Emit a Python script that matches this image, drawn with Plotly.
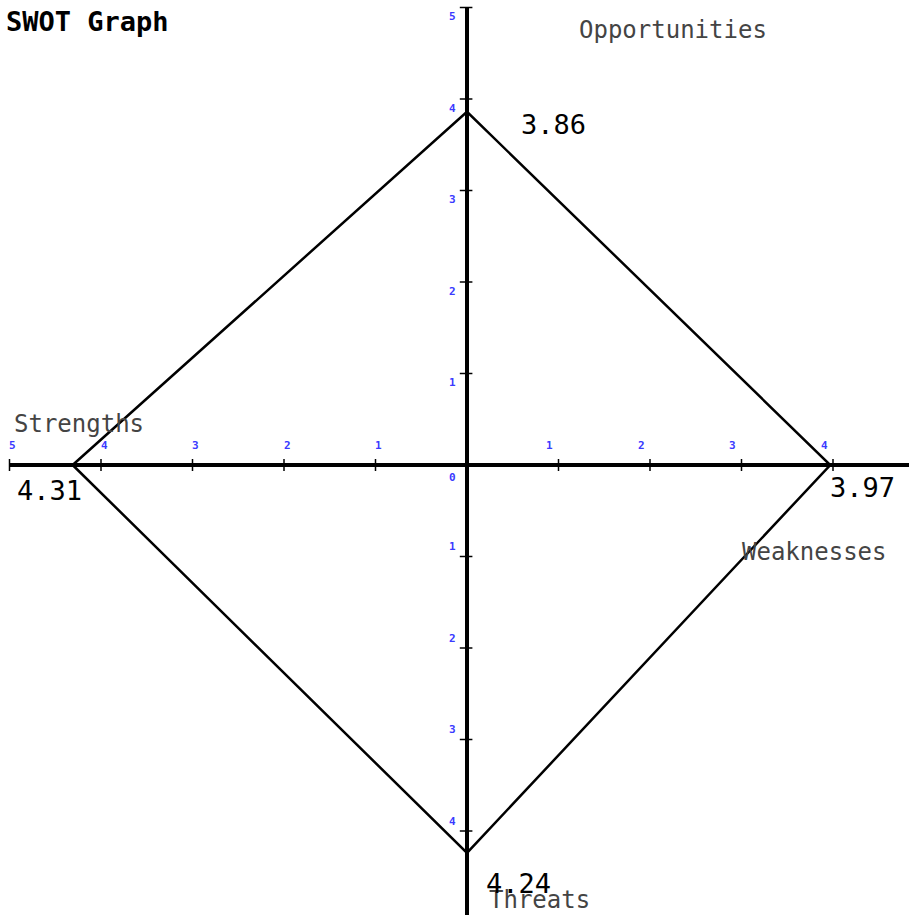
import plotly.graph_objects as go

# SWOT scores, one per axis direction
categories = ["Strengths", "Opportunities", "Weaknesses", "Threats"]
scores = [4.31, 3.86, 3.97, 4.24]
directions = [(-1, 0), (0, 1), (1, 0), (0, -1)]
tick_vals = [1, 2, 3, 4, 5]

PX = 91.5  # pixels per unit
X0, Y0 = 467, 465  # origin in pixels
W, H = 909, 915

MONO = "DejaVu Sans Mono"

fig = go.Figure()

# axes
fig.add_trace(go.Scatter(x=[-5, 5], y=[0, 0], mode="lines",
                         line=dict(color="black", width=4), hoverinfo="skip"))
fig.add_trace(go.Scatter(x=[0, 0], y=[-5, 5], mode="lines",
                         line=dict(color="black", width=4), hoverinfo="skip"))

# tick marks
t = 6 / PX
tx, ty = [], []
for v in tick_vals:
    for s in (-1, 1):
        tx += [s * v, s * v, None]
        ty += [-t, t, None]
        tx += [-t * 1.2, t * 0.9, None]
        ty += [s * v, s * v, None]
fig.add_trace(go.Scatter(x=tx, y=ty, mode="lines",
                         line=dict(color="black", width=1.5), hoverinfo="skip"))

# diamond
dx = [s * d[0] for s, d in zip(scores, directions)]
dy = [s * d[1] for s, d in zip(scores, directions)]
fig.add_trace(go.Scatter(x=dx + dx[:1], y=dy + dy[:1], mode="lines",
                         line=dict(color="black", width=2.5), hoverinfo="skip"))

ann = []
tick_font = dict(family=MONO, size=11, color="#3a3aff", weight="bold")
for v in tick_vals:
    ann.append(dict(x=v, y=0, text=str(v), xshift=-9, yshift=20))
    ann.append(dict(x=-v, y=0, text=str(v), xshift=3, yshift=20))
    ann.append(dict(x=0, y=v, text=str(v), xshift=-15, yshift=-9))
    ann.append(dict(x=0, y=-v, text=str(v), xshift=-15, yshift=10))
ann.append(dict(x=0, y=0, text="0", xshift=-15, yshift=-12))
for a in ann:
    a.update(showarrow=False, font=tick_font, xanchor="center", yanchor="middle")

# category labels
label_pos = {
    "Strengths": (-4.97, 0.45),
    "Opportunities": (1.20, 4.75),
    "Weaknesses": (2.98, -0.95),
    "Threats": (0.22, -4.75),
}
for c in categories:
    lx, ly = label_pos[c]
    ann.append(dict(x=lx, y=ly, text=c, showarrow=False, xanchor="left",
                    yanchor="middle", font=dict(family=MONO, size=24, color="#444444")))

# value labels at the vertices
value_shift = {
    "Strengths": (-58, -25),
    "Opportunities": (52, -13),
    "Weaknesses": (-2, -22),
    "Threats": (17, -31),
}
for c, s, x, y in zip(categories, scores, dx, dy):
    xs, ys = value_shift[c]
    ann.append(dict(x=x, y=y, text=f"{s:.2f}", showarrow=False, xanchor="left",
                    yanchor="middle", xshift=xs, yshift=ys,
                    font=dict(family=MONO, size=27, color="black")))

ann.append(dict(x=0, y=1, xref="paper", yref="paper", text="<b>SWOT Graph</b>",
                showarrow=False, xanchor="left", yanchor="middle", xshift=4, yshift=-21,
                font=dict(family=MONO, size=27, color="black")))

fig.update_layout(
    width=W, height=H,
    margin=dict(l=0, r=0, t=0, b=0),
    paper_bgcolor="white", plot_bgcolor="white",
    showlegend=False,
    annotations=ann,
    xaxis=dict(range=[-X0 / PX, (W - X0) / PX], visible=False, fixedrange=True),
    yaxis=dict(range=[-(H - Y0) / PX, Y0 / PX], visible=False, fixedrange=True),
)

fig.write_html("out.html", config={"displayModeBar": False},
               post_script="document.body.style.margin='0';document.body.style.overflow='hidden';")
